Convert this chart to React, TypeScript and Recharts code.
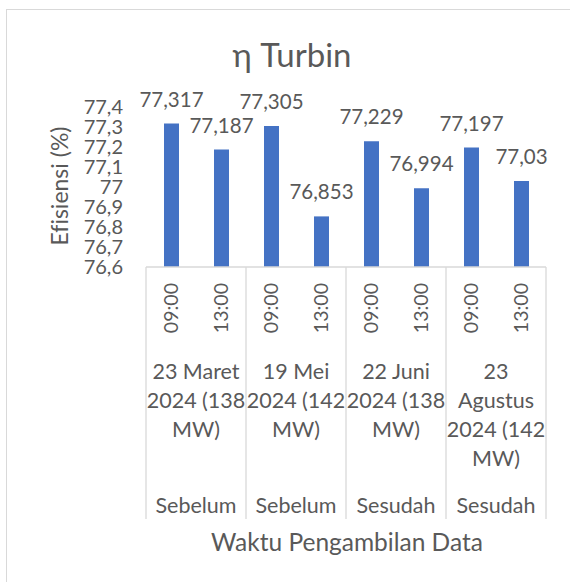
import React from "react";
import { BarChart, Bar, XAxis, YAxis, LabelList } from "recharts";

const times = ["09:00", "13:00", "09:00", "13:00", "09:00", "13:00", "09:00", "13:00"];
const efficiency = [77.317, 77.187, 77.305, 76.853, 77.229, 76.994, 77.197, 77.03];
const dateGroups = [
  ["23 Maret", "2024 (138", "MW)"],
  ["19 Mei", "2024 (142", "MW)"],
  ["22 Juni", "2024 (138", "MW)"],
  ["23", "Agustus", "2024 (142", "MW)"],
];
const phases = ["Sebelum", "Sebelum", "Sesudah", "Sesudah"];
const yTicks = [76.6, 76.7, 76.8, 76.9, 77, 77.1, 77.2, 77.3, 77.4];

const data = times.map((t, i) => ({ time: t, value: efficiency[i] }));

const W = 570;
const H = 582;
const PLOT_LEFT = 146;
const PLOT_RIGHT = 546;
const PLOT_TOP = 107;
const PLOT_BOTTOM = 267;
const BAND = (PLOT_RIGHT - PLOT_LEFT) / data.length;
const TEXT = "#595959";
const LINE = "#D9D9D9";
const FONT = "Lato, 'Open Sans', sans-serif";
const NOLIG = { fontVariantLigatures: "none" as const };

const comma = (v: number | string) => String(v).replace(".", ",");

const CategoryTick = (props: any) => {
  const { x, y, payload, index } = props;
  const g = Math.floor(index / 2);
  const ty = y + 16;
  return (
    <g>
      <text
        x={x}
        y={ty}
        dy="0.35em"
        transform={`rotate(-90 ${x} ${ty})`}
        textAnchor="end"
        fontSize={19.5}
        fill={TEXT}
        fontFamily={FONT}
      >
        {payload.value}
      </text>
      {index % 2 === 0 && (
        <line x1={x - BAND / 2} x2={x - BAND / 2} y1={y} y2={y + 252} stroke={LINE} strokeWidth={1.3} />
      )}
      {index === data.length - 1 && (
        <line x1={x + BAND / 2} x2={x + BAND / 2} y1={y} y2={y + 252} stroke={LINE} strokeWidth={1.3} />
      )}
      {index % 2 === 1 && (
        <g>
          {dateGroups[g].map((line, i) => (
            <text
              key={i}
              x={x - BAND / 2}
              y={y + 104 + i * 29}
              dy="0.35em"
              textAnchor="middle"
              fontSize={21.5}
              fill={TEXT}
              fontFamily={FONT}
            >
              {line}
            </text>
          ))}
          <text
            x={x - BAND / 2}
            y={y + 238}
            dy="0.35em"
            textAnchor="middle"
            fontSize={21.5}
            fill={TEXT}
            fontFamily={FONT}
          >
            {phases[g]}
          </text>
        </g>
      )}
    </g>
  );
};

export default function App() {
  return (
    <div
      style={{
        position: "absolute",
        left: 0,
        top: 0,
        width: W,
        height: H,
        overflow: "hidden",
        background: "#fff",
        fontFamily: FONT,
        ...NOLIG,
      }}
    >
      <div
        style={{
          position: "absolute",
          left: 6,
          top: 9,
          width: W + 20,
          height: H + 20,
          border: `1px solid ${LINE}`,
        }}
      />
      <BarChart
        width={W}
        height={H}
        data={data}
        margin={{ top: PLOT_TOP, right: W - PLOT_RIGHT, left: 0, bottom: 0 }}
        barSize={15}
        style={{ position: "absolute", left: 0, top: 0 }}
      >
        <YAxis
          width={PLOT_LEFT}
          domain={[76.6, 77.4]}
          ticks={yTicks}
          interval={0}
          axisLine={false}
          tickLine={false}
          tickSize={0}
          tickMargin={23}
          tickFormatter={(v: number) => comma(v)}
          tick={{ fontSize: 20, fill: TEXT, fontFamily: FONT }}
        />
        <XAxis
          dataKey="time"
          height={H - PLOT_BOTTOM}
          interval={0}
          tickLine={false}
          tickSize={0}
          tickMargin={0}
          axisLine={{ stroke: LINE, strokeWidth: 1.3 }}
          tick={<CategoryTick />}
        />
        <Bar dataKey="value" fill="#4472C4" isAnimationActive={false}>
          <LabelList
            dataKey="value"
            position="top"
            offset={17}
            formatter={(v: any) => comma(v)}
            style={{ fontSize: 20.5, fill: TEXT, fontFamily: FONT }}
          />
        </Bar>
      </BarChart>
      <svg width={W} height={H} style={{ position: "absolute", left: 0, top: 0, pointerEvents: "none" }}>
        <text x={292} y={55} dy="0.35em" textAnchor="middle" fontSize={33} fill={TEXT} fontFamily={FONT}>
          η Turbin
        </text>
        <text
          x={60}
          y={186}
          dy="0.35em"
          transform="rotate(-90 60 186)"
          textAnchor="middle"
          fontSize={23}
          fill={TEXT}
          fontFamily={FONT}
        >
          Efisiensi (%)
        </text>
        <text x={347} y={542} dy="0.35em" textAnchor="middle" fontSize={24.5} fill={TEXT} fontFamily={FONT}>
          Waktu Pengambilan Data
        </text>
      </svg>
    </div>
  );
}
